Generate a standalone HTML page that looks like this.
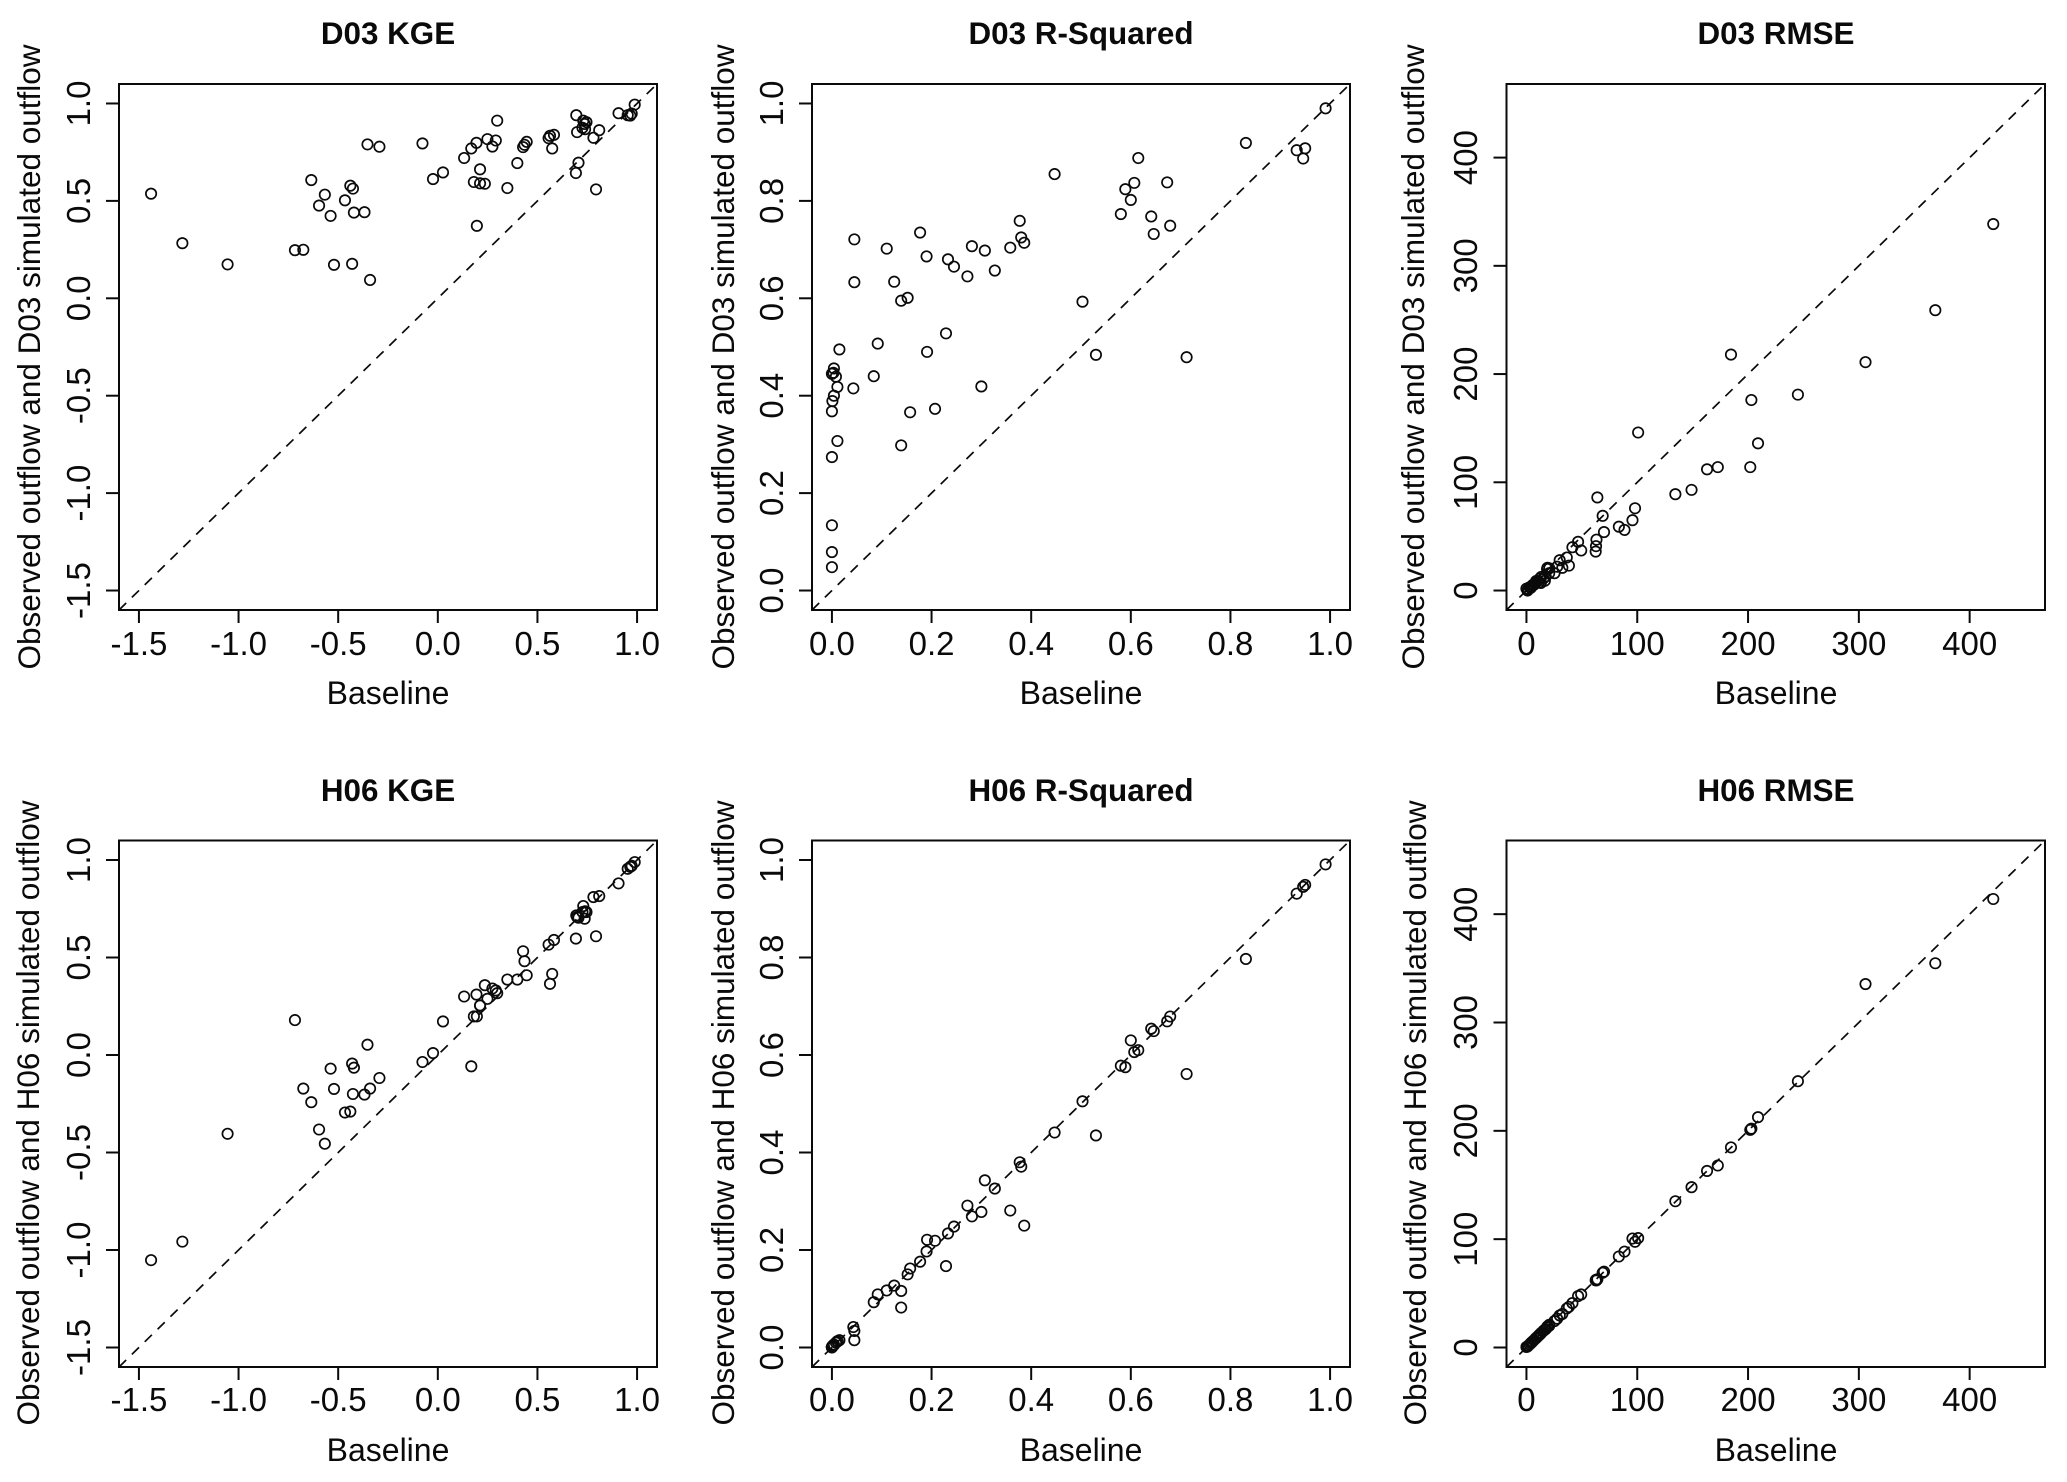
<!DOCTYPE html>
<html>
<head>
<meta charset="utf-8">
<title>Baseline vs simulated outflow</title>
<style>
html,body{margin:0;padding:0;background:#fff;}
svg{display:block;}
text{font-family:"Liberation Sans",sans-serif;fill:#0a0a0a;}
.title{font-size:31.4px;font-weight:bold;text-anchor:middle;}
.xlab{font-size:32px;text-anchor:middle;}
.ylab{font-size:31.5px;text-anchor:middle;}
.tick{font-size:33px;text-anchor:middle;}
.box{fill:none;stroke:#0a0a0a;stroke-width:2;}
.tk{stroke:#0a0a0a;stroke-width:2;}
.dash{stroke:#0a0a0a;stroke-width:1.7;stroke-dasharray:10 8;fill:none;}
.pt{fill:none;stroke:#0a0a0a;stroke-width:1.7;}
</style>
</head>
<body>
<svg id="fig" width="2067" height="1482" viewBox="0 0 2067 1482" xmlns="http://www.w3.org/2000/svg">
<rect width="2067" height="1482" fill="#fff"/>
<g id="p1">
<text class="title" x="388" y="44">D03 KGE</text>
<text class="xlab" x="388" y="704">Baseline</text>
<text class="ylab" transform="translate(40,357) rotate(-90)">Observed outflow and D03 simulated outflow</text>
</g>
<g id="p2">
<text class="title" x="1081" y="44">D03 R-Squared</text>
<text class="xlab" x="1081" y="704">Baseline</text>
<text class="ylab" transform="translate(734,357) rotate(-90)">Observed outflow and D03 simulated outflow</text>
</g>
<g id="p3">
<text class="title" x="1776" y="44">D03 RMSE</text>
<text class="xlab" x="1776" y="704">Baseline</text>
<text class="ylab" transform="translate(1424,357) rotate(-90)">Observed outflow and D03 simulated outflow</text>
</g>
<g id="p4">
<text class="title" x="388" y="801">H06 KGE</text>
<text class="xlab" x="388" y="1461">Baseline</text>
<text class="ylab" transform="translate(39,1113) rotate(-90)">Observed outflow and H06 simulated outflow</text>
</g>
<g id="p5">
<text class="title" x="1081" y="801">H06 R-Squared</text>
<text class="xlab" x="1081" y="1461">Baseline</text>
<text class="ylab" transform="translate(734,1113) rotate(-90)">Observed outflow and H06 simulated outflow</text>
</g>
<g id="p6">
<text class="title" x="1776" y="801">H06 RMSE</text>
<text class="xlab" x="1776" y="1461">Baseline</text>
<text class="ylab" transform="translate(1426,1113) rotate(-90)">Observed outflow and H06 simulated outflow</text>
</g>
</svg>
<script>
var kgeBaseline = [-1.439,-1.282,-1.055,-0.717,-0.675,-0.635,-0.596,-0.567,-0.538,-0.521,-0.466,-0.439,-0.426,-0.43,-0.421,-0.368,-0.353,-0.34,-0.293,-0.077,-0.024,0.026,0.132,0.168,0.181,0.194,0.196,0.212,0.212,0.236,0.249,0.274,0.291,0.298,0.349,0.399,0.428,0.435,0.446,0.556,0.563,0.583,0.574,0.693,0.695,0.699,0.706,0.73,0.726,0.737,0.746,0.739,0.781,0.794,0.81,0.907,0.953,0.966,0.973,0.988];
var kgeD03 = [0.537,0.283,0.174,0.247,0.249,0.607,0.476,0.532,0.423,0.172,0.503,0.578,0.563,0.177,0.44,0.442,0.79,0.094,0.778,0.795,0.612,0.646,0.72,0.769,0.597,0.798,0.372,0.662,0.59,0.588,0.817,0.779,0.81,0.912,0.566,0.694,0.776,0.788,0.803,0.822,0.834,0.839,0.769,0.643,0.94,0.853,0.696,0.912,0.875,0.895,0.904,0.868,0.824,0.559,0.863,0.95,0.94,0.938,0.948,0.994];
var kgeH06 = [-1.052,-0.957,-0.404,0.179,-0.172,-0.242,-0.382,-0.455,-0.07,-0.174,-0.295,-0.29,-0.2,-0.044,-0.065,-0.203,0.053,-0.172,-0.118,-0.036,0.01,0.172,0.3,-0.058,0.198,0.31,0.198,0.254,0.254,0.358,0.288,0.341,0.331,0.317,0.387,0.387,0.532,0.481,0.409,0.566,0.365,0.59,0.416,0.597,0.716,0.708,0.704,0.764,0.733,0.699,0.733,0.737,0.81,0.609,0.815,0.88,0.955,0.965,0.97,0.989];

var r2Baseline = [0,0,0,0,0.011,0,0.001,0.004,0.011,0.015,0,0.003,0.004,0.008,0.043,0.045,0.045,0.084,0.092,0.11,0.125,0.139,0.139,0.152,0.157,0.177,0.19,0.191,0.207,0.229,0.233,0.245,0.272,0.281,0.3,0.307,0.327,0.358,0.377,0.38,0.386,0.447,0.503,0.53,0.58,0.589,0.6,0.607,0.615,0.641,0.646,0.673,0.679,0.712,0.831,0.933,0.946,0.95,0.991];
var r2D03 = [0.048,0.079,0.134,0.274,0.307,0.368,0.389,0.4,0.418,0.495,0.445,0.447,0.456,0.439,0.415,0.721,0.633,0.44,0.507,0.702,0.634,0.595,0.298,0.601,0.366,0.735,0.686,0.49,0.373,0.528,0.68,0.665,0.645,0.707,0.419,0.698,0.657,0.704,0.759,0.725,0.714,0.855,0.593,0.484,0.773,0.824,0.802,0.837,0.888,0.768,0.732,0.838,0.749,0.479,0.919,0.904,0.887,0.908,0.99];
var r2H06 = [0,0.001,0.001,0.001,0.012,0.001,0.003,0.005,0.013,0.015,0.001,0.005,0.006,0.01,0.042,0.034,0.015,0.093,0.109,0.117,0.127,0.116,0.082,0.15,0.162,0.176,0.197,0.221,0.219,0.167,0.234,0.248,0.291,0.269,0.278,0.343,0.326,0.281,0.38,0.371,0.25,0.441,0.505,0.435,0.578,0.575,0.63,0.606,0.61,0.654,0.649,0.669,0.679,0.561,0.797,0.931,0.945,0.949,0.991];

var rmseBaseline = [421.3,369,306,245,209,203,202,184.6,172.7,163,149,134.4,100.8,98,95.7,88.5,83.4,70,68.8,64,63.2,62.8,62.5,49.4,46.6,41.5,38.3,36.4,32.4,30,25.3,27.7,20.6,19,18.6,20.5,17.4,16.6,13.4,12,11.5,10,8.3,6.7,4.7,2.8,1.6,0,1,15.4,13,8.7,5.5,4];
var rmseD03 = [338.6,259,211,181,136,176,114,218,114,112,93,89,146,76,65,56,59,54,69,86,47,41,36,37,45,40,23,30.5,21,28,16,22,20.5,21,20,16,13,9,12.6,11,7.5,8.7,7.4,5.2,3.9,3,1.3,1.7,0,11.3,7,8.7,5,2.6];
var rmseH06 = [414,354.7,335.5,245.8,212.6,202,200.9,184.7,168,163,148,135,101,97.6,100.6,88.5,84,70,69,63,62,62.5,62,49,47.5,41,37.5,36,31,29.6,24.4,26.6,21,19.5,18.5,20,17,16.5,13.5,12,11.5,10,8.3,6.7,4.7,2.8,1.6,0.5,1,15.4,13,8.7,5.5,4];

var kgeTicks = ['-1.5','-1.0','-0.5','0.0','0.5','1.0'];
var r2Ticks = ['0.0','0.2','0.4','0.6','0.8','1.0'];
var rmseTicks = ['0','100','200','300','400'];
var kgeLimits = [-1.6,1.1];
var r2Limits = [-0.04,1.04];
var rmseLimits = [-18,468];

var NS = 'http://www.w3.org/2000/svg';
var rows = [{top:84,bottom:610,tickBase:655},{top:840.5,bottom:1367,tickBase:1411}];
var cols = [
  {left:119,right:657,tickX:90,ticks:kgeTicks,lim:kgeLimits,base:kgeBaseline,sim:[kgeD03,kgeH06]},
  {left:812,right:1350,tickX:783,ticks:r2Ticks,lim:r2Limits,base:r2Baseline,sim:[r2D03,r2H06]},
  {left:1506.5,right:2045,tickX:1477,ticks:rmseTicks,lim:rmseLimits,base:rmseBaseline,sim:[rmseD03,rmseH06]}
];

function mk(parent, tag, attrs) {
  var el = document.createElementNS(NS, tag);
  for (var k in attrs) el.setAttribute(k, attrs[k]);
  parent.appendChild(el);
  return el;
}
function scale(lim, a, b) {
  return function (v) { return a + (v - lim[0]) / (lim[1] - lim[0]) * (b - a); };
}

function drawPanel(r, c) {
  var row = rows[r], col = cols[c];
  var g = document.getElementById('p' + (r * 3 + c + 1));
  var sx = scale(col.lim, col.left, col.right);
  var sy = scale(col.lim, row.bottom, row.top);

  var line = mk(g, 'line', {class:'dash', x1:sx(col.lim[0]), y1:sy(col.lim[0]), x2:sx(col.lim[1]), y2:sy(col.lim[1])});
  
  

  var box = mk(g, 'rect', {class:'box', x:col.left, y:row.top, width:col.right - col.left, height:row.bottom - row.top});
  
  

  col.ticks.forEach(function (label) {
    var v = parseFloat(label);
    var xt = mk(g, 'line', {class:'tk', x1:sx(v), x2:sx(v), y1:row.bottom, y2:row.bottom + 13});
    
    
    var xl = mk(g, 'text', {class:'tick', x:sx(v), y:row.tickBase});
    
    
    xl.textContent = label;
    var yt = mk(g, 'line', {class:'tk', x1:col.left - 13, x2:col.left, y1:sy(v), y2:sy(v)});
    
    
    var yl = mk(g, 'text', {class:'tick', transform:'translate(' + col.tickX + ',' + sy(v) + ') rotate(-90)'});
    
    
    yl.textContent = label;
  });

  var ys = col.sim[r];
  col.base.forEach(function (x, i) {
    var p = mk(g, 'circle', {class:'pt', cx:sx(x), cy:sy(ys[i]), r:5.2});
    
    
  });
}
for (var r = 0; r < 2; r++) for (var c = 0; c < 3; c++) drawPanel(r, c);
</script>
</body>
</html>
